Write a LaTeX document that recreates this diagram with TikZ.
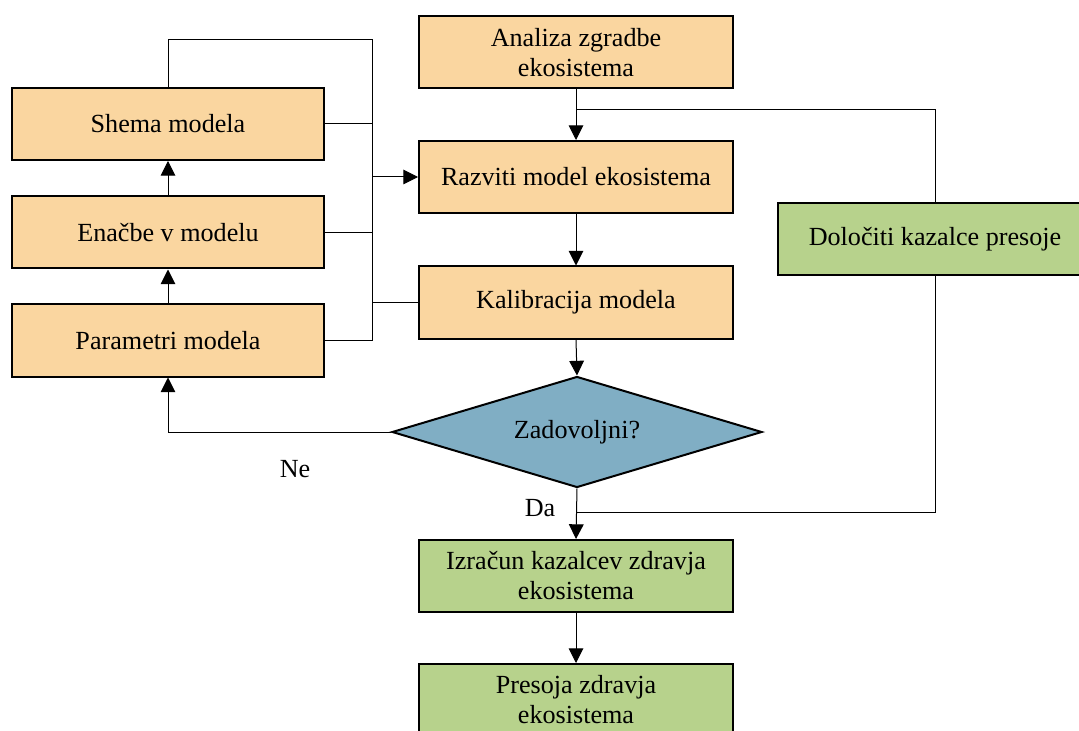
\documentclass[tikz,border=0pt]{standalone}
\usepackage{fontspec}
\setmainfont{Liberation Serif}
\usetikzlibrary{shapes.geometric,arrows.meta}
\definecolor{boxorange}{RGB}{250,214,160}
\definecolor{boxgreen}{RGB}{183,210,140}
\definecolor{boxblue}{RGB}{128,174,196}
\begin{document}
\begin{tikzpicture}[x=0.75pt,y=-0.75pt,
  font=\fontsize{19.6pt}{22.5pt}\selectfont,
  stepbox/.style={draw=black,line width=1.5pt,minimum height=54pt,inner sep=0pt,align=center},
  leftbox/.style={stepbox,fill=boxorange,minimum width=234pt},
  mainbox/.style={stepbox,fill=boxorange,minimum width=235.5pt},
  greenbox/.style={stepbox,fill=boxgreen,minimum width=235.5pt},
  decision/.style={diamond,shape aspect=3.33,draw=black,line width=1.5pt,fill=boxblue,minimum width=277.5pt,minimum height=83.25pt,inner sep=0pt},
  conn/.style={draw=black,line width=0.75pt},
  flow/.style={conn,-{Triangle[length=11pt,width=11pt]}},
  lbl/.style={inner sep=0pt}]
\useasboundingbox (0,0) rectangle (1079,731);

% left column: model building blocks
\node[leftbox] (sh) at (168,124) {Shema modela};
\node[leftbox] (en) at (168,232.5) {Enačbe v modelu};
\node[leftbox] (pm) at (168,340.5) {Parametri modela};

% main column
\node[mainbox] (an) at (576,52.5) {Analiza zgradbe\\ekosistema};
\node[mainbox] (rz) at (576,177) {Razviti model ekosistema};
\node[mainbox] (ka) at (576,302.5) {Kalibracija modela};
\node[decision] (dia) at (577,432) {Zadovoljni?};
\node[greenbox] (iz) at (576,576) {Izračun kazalcev zdravja\\ekosistema};
\node[greenbox] (ps) at (576,700) {Presoja zdravja\\ekosistema};

% side branch
\node[greenbox] (dk) at (935,239) {Določiti kazalce presoje};

% branch labels
\node[lbl] (ne) at (295,469) {Ne};
\node[lbl] (da) at (540,508) {Da};

% collecting bus between the columns
\coordinate (bt) at (372,40);
\coordinate (bb) at (372,340.5);
\coordinate (ba) at (372,177);
\coordinate (j1) at (576,110);
\coordinate (j2) at (576,512);

\draw[conn] (sh.north) |- (bt) -- (bb) -- (pm.east);
\draw[conn] (sh.east) -- (sh.east -| bt);
\draw[conn] (en.east) -- (en.east -| bt);
\draw[conn] (ka.west) -- (ka.west -| bt);
\draw[flow] (ba) -- (rz.west);

\draw[flow] (en) -- (sh);
\draw[flow] (pm) -- (en);

\draw[flow] (an) -- (rz);
\draw[conn] (j1) -| (dk.north);
\draw[conn] (dk.south) |- (j2);
\draw[flow] (rz) -- (ka);
\draw[flow] (ka.south) -- (dia.north);
\draw[flow] (dia.south) -- (iz.north);
\draw[flow] (iz) -- (ps);
\draw[flow] (dia.west) -| (pm.south);
\end{tikzpicture}
\end{document}
